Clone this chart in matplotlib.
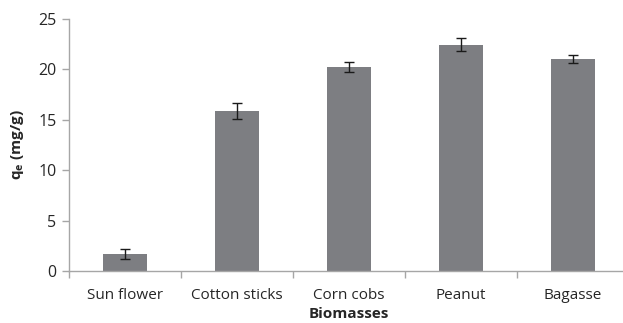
import matplotlib

matplotlib.use("Agg")
import matplotlib.pyplot as plt
import numpy as np

biomasses = ["Sun flower", "Cotton sticks", "Corn cobs", "Peanut", "Bagasse"]
qe_values = [1.7, 15.9, 20.2, 22.45, 21.0]
qe_errors = [0.48, 0.8, 0.5, 0.65, 0.4]

plt.rcParams["font.family"] = ["Open Sans", "DejaVu Sans"]

fig = plt.figure(figsize=(6.23, 3.23), dpi=100)
ax = fig.add_axes([69 / 623, 52 / 323, 560 / 623, 252 / 323])

x = np.arange(len(biomasses))
ax.bar(x, qe_values, width=0.4, color="#7d7e82", zorder=2)
ax.errorbar(x, qe_values, yerr=qe_errors, fmt="none", ecolor="#1a1a1a",
            elinewidth=1.0, capsize=3.5, capthick=1.0, zorder=3)

ax.set_xlim(-0.5, len(biomasses) - 0.5)
ax.set_ylim(0, 25)
ax.set_yticks(np.arange(0, 26, 5))

# category labels sit in the middle, ticks mark the boundaries
ax.set_xticks(x)
ax.set_xticklabels(biomasses)
ax.set_xticks(np.arange(-0.5, len(biomasses)), minor=True)
ax.tick_params(axis="x", which="major", length=0, pad=12, labelsize=11, labelcolor="#262626")
ax.tick_params(axis="x", which="minor", length=5, color="#a6a6a6", width=1)
ax.tick_params(axis="y", length=5, color="#a6a6a6", width=1, labelsize=11.5,
               labelcolor="#262626", pad=4)

for side in ("top", "right"):
    ax.spines[side].set_visible(False)
for side in ("left", "bottom"):
    ax.spines[side].set_color("#a6a6a6")
    ax.spines[side].set_linewidth(1)

ax.set_ylabel("q$_\\mathregular{e}$ (mg/g)", fontsize=11, fontweight="bold", color="#262626", labelpad=9)
ax.set_xlabel("Biomasses", fontsize=11, fontweight="bold", color="#262626", labelpad=3)

fig.savefig("out.png", dpi=100)
